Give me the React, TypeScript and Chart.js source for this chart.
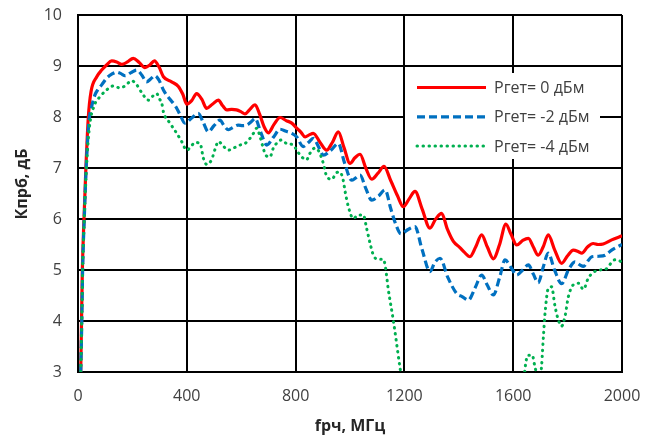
import React, { useEffect, useRef } from "react";
import { Chart, registerables } from "chart.js";

Chart.register(...registerables);

// ---- data ----
const redLabel = "Ргет= 0 дБм";
const blueLabel = "Ргет= -2 дБм";
const greenLabel = "Ргет= -4 дБм";

const redX = [10, 13, 16, 22, 29, 38, 48, 69, 87, 105, 124, 142, 161, 182, 203, 225, 246, 264, 281, 298, 314, 344, 369, 385, 400, 418, 436, 455, 473, 494, 516, 532, 547, 565, 583, 600, 614, 632, 651, 668, 685, 700, 720, 743, 765, 786, 804, 820, 835, 850, 865, 890, 914, 935, 957, 978, 1000, 1018, 1037, 1058, 1080, 1103, 1125, 1150, 1175, 1196, 1218, 1239, 1265, 1294, 1315, 1337, 1358, 1380, 1404, 1420, 1441, 1462, 1484, 1505, 1527, 1550, 1573, 1592, 1613, 1635, 1656, 1674, 1692, 1710, 1729, 1752, 1778, 1800, 1821, 1840, 1852, 1873, 1894, 1912, 1931, 1962, 2000];
const redY = [3.0, 4.0, 5.0, 6.0, 7.0, 8.0, 8.5, 8.79, 8.92, 9.02, 9.1, 9.08, 9.03, 9.08, 9.15, 9.07, 8.97, 9.02, 9.1, 8.98, 8.79, 8.69, 8.6, 8.45, 8.25, 8.32, 8.46, 8.35, 8.17, 8.25, 8.33, 8.22, 8.14, 8.15, 8.14, 8.1, 8.06, 8.15, 8.24, 8.05, 7.8, 7.69, 7.85, 7.99, 7.93, 7.88, 7.78, 7.7, 7.61, 7.65, 7.68, 7.5, 7.35, 7.5, 7.71, 7.4, 7.09, 7.2, 7.27, 7.0, 6.78, 6.9, 7.03, 6.75, 6.45, 6.24, 6.4, 6.54, 6.2, 5.82, 6.0, 6.11, 5.8, 5.56, 5.44, 5.35, 5.26, 5.45, 5.69, 5.45, 5.22, 5.5, 5.9, 5.7, 5.49, 5.58, 5.62, 5.45, 5.29, 5.45, 5.69, 5.4, 5.13, 5.28, 5.39, 5.36, 5.33, 5.45, 5.52, 5.5, 5.51, 5.59, 5.67];

const blueX = [10, 14, 17, 23, 30, 40, 50, 62, 75, 87, 105, 124, 142, 158, 173, 195, 216, 235, 252, 268, 283, 298, 314, 330, 344, 360, 375, 393, 418, 442, 460, 479, 500, 522, 537, 553, 571, 589, 605, 620, 636, 651, 672, 694, 718, 743, 765, 786, 804, 828, 847, 865, 884, 902, 930, 957, 980, 1006, 1020, 1037, 1058, 1080, 1105, 1129, 1150, 1168, 1187, 1215, 1239, 1265, 1294, 1312, 1331, 1360, 1392, 1412, 1435, 1460, 1484, 1505, 1527, 1550, 1570, 1592, 1613, 1635, 1656, 1674, 1692, 1710, 1729, 1752, 1778, 1803, 1827, 1845, 1858, 1875, 1889, 1915, 1938, 1962, 2000];
const blueY = [3.0, 4.0, 5.0, 6.0, 7.0, 7.9, 8.2, 8.43, 8.55, 8.63, 8.76, 8.84, 8.88, 8.85, 8.81, 8.87, 8.92, 8.82, 8.69, 8.75, 8.81, 8.72, 8.53, 8.4, 8.31, 8.2, 8.05, 7.88, 7.98, 8.07, 7.9, 7.71, 7.83, 7.94, 7.83, 7.75, 7.8, 7.84, 7.83, 7.84, 7.9, 7.97, 7.7, 7.45, 7.6, 7.76, 7.72, 7.68, 7.61, 7.42, 7.5, 7.58, 7.42, 7.25, 7.35, 7.48, 7.1, 6.76, 6.8, 6.86, 6.6, 6.37, 6.45, 6.57, 6.2, 5.9, 5.71, 5.8, 5.85, 5.4, 4.97, 5.15, 5.23, 4.85, 4.54, 4.48, 4.41, 4.65, 4.9, 4.7, 4.51, 4.85, 5.2, 5.05, 4.9, 5.0, 5.1, 4.92, 4.75, 5.05, 5.33, 5.0, 4.73, 5.0, 5.16, 5.1, 5.07, 5.18, 5.26, 5.27, 5.29, 5.39, 5.5];

const greenX = [10, 14, 17, 23, 31, 42, 58, 81, 99, 115, 130, 154, 173, 197, 216, 240, 259, 277, 289, 300, 308, 314, 338, 363, 381, 400, 415, 430, 449, 461, 473, 491, 504, 516, 534, 553, 571, 596, 614, 632, 645, 657, 670, 681, 690, 706, 718, 733, 749, 767, 792, 804, 822, 840, 853, 871, 883, 902, 914, 933, 951, 963, 975, 982, 994, 1012, 1031, 1049, 1061, 1074, 1086, 1104, 1122, 1129, 1141, 1159, 1178, 1190, 1200, 1630, 1643, 1656, 1670, 1680, 1691, 1702, 1711, 1717, 1729, 1741, 1754, 1766, 1778, 1790, 1803, 1821, 1840, 1858, 1876, 1894, 1915, 1938, 1974, 2000];
const greenY = [3.0, 4.0, 5.0, 6.0, 7.0, 7.8, 8.2, 8.4, 8.5, 8.57, 8.61, 8.57, 8.61, 8.71, 8.63, 8.43, 8.33, 8.42, 8.46, 8.35, 8.27, 8.1, 7.88, 7.68, 7.52, 7.35, 7.42, 7.5, 7.48, 7.19, 7.07, 7.16, 7.37, 7.52, 7.43, 7.35, 7.39, 7.45, 7.48, 7.58, 7.68, 7.78, 7.6, 7.39, 7.25, 7.22, 7.39, 7.5, 7.55, 7.48, 7.45, 7.35, 7.22, 7.16, 7.29, 7.39, 7.35, 7.09, 6.84, 6.78, 6.91, 6.92, 6.76, 6.54, 6.24, 6.01, 6.08, 6.08, 5.82, 5.52, 5.29, 5.21, 5.21, 5.1, 4.61, 4.02, 3.3, 2.8, 2.0, 2.0, 3.04, 3.33, 3.33, 3.1, 2.9, 3.0, 3.69, 4.15, 4.64, 4.67, 4.28, 4.02, 3.9, 4.08, 4.48, 4.71, 4.74, 4.62, 4.84, 4.95, 5.0, 5.01, 5.2, 5.16];

const xTitle = "fрч, МГц";
const yTitle = "Кпрб, дБ";
const xMin = 0, xMax = 2000, xStep = 400;
const yMin = 3, yMax = 10, yStep = 1;

const FONT = '"Open Sans", "Liberation Sans", sans-serif';
const TEXT = "#404040";
const TITLE = "#262626";

const toPoints = (xs: number[], ys: number[]) => xs.map((x, i) => ({ x, y: ys[i] }));

const legendPlugin = {
  id: "boxLegend",
  afterDraw(chart: any) {
    const ctx = chart.ctx;
    const ds = chart.data.datasets;
    ctx.save();
    // y-axis title
    ctx.translate(22, 184);
    ctx.rotate(-Math.PI / 2);
    ctx.fillStyle = TITLE;
    ctx.font = `bold 16px ${FONT}`;
    ctx.textAlign = "center";
    ctx.textBaseline = "middle";
    ctx.fillText(yTitle, 0, 0);
    ctx.setTransform(1, 0, 0, 1, 0, 0);
    // legend box
    ctx.fillStyle = "#ffffff";
    ctx.fillRect(405, 73, 195, 86);
    ds.forEach((d: any, i: number) => {
      const y = 87.5 + i * 29.3;
      ctx.strokeStyle = d.borderColor;
      ctx.lineWidth = d.borderWidth;
      ctx.setLineDash(d.borderDash || []);
      ctx.lineCap = d.borderCapStyle || "butt";
      ctx.beginPath();
      ctx.moveTo(417, y);
      ctx.lineTo(486, y);
      ctx.stroke();
      ctx.setLineDash([]);
      ctx.fillStyle = TEXT;
      ctx.font = `16px ${FONT}`;
      ctx.textBaseline = "middle";
      ctx.textAlign = "left";
      ctx.fillText(d.label, 494, y + 1);
    });
    ctx.restore();
  },
};

export default function App() {
  const ref = useRef<HTMLCanvasElement>(null);
  useEffect(() => {
    if (!ref.current) return;
    const chart = new Chart(ref.current, {
      type: "line",
      data: {
        datasets: [
          {
            label: redLabel,
            data: toPoints(redX, redY),
            borderColor: "#FF0000",
            borderWidth: 3.2,
            pointRadius: 0,
            cubicInterpolationMode: "monotone",
            order: 3,
          },
          {
            label: blueLabel,
            data: toPoints(blueX, blueY),
            borderColor: "#0070C0",
            borderWidth: 3.2,
            borderDash: [8, 4],
            pointRadius: 0,
            cubicInterpolationMode: "monotone",
            order: 2,
          },
          {
            label: greenLabel,
            data: toPoints(greenX, greenY),
            borderColor: "#00B050",
            borderWidth: 3,
            borderDash: [0.5, 5.5],
            borderCapStyle: "round",
            pointRadius: 0,
            cubicInterpolationMode: "monotone",
            order: 1,
          },
        ],
      },
      options: {
        responsive: false,
        animation: false,
        devicePixelRatio: 1,
        layout: { padding: { left: 0, right: 35, top: 15, bottom: 0 } },
        plugins: { legend: { display: false }, tooltip: { enabled: false } },
        scales: {
          x: {
            type: "linear",
            min: xMin,
            max: xMax,
            afterFit: (s: any) => { s.height = 70; s.paddingLeft = 0; s.paddingRight = 0; },
            ticks: { stepSize: xStep, padding: 15, color: TEXT, font: { family: FONT, size: 16 }, callback: (v: any) => String(v) },
            grid: { color: "#000", lineWidth: 2, drawTicks: false },
            border: { color: "#000", width: 2 },
            title: { display: true, text: xTitle, color: TITLE, font: { family: FONT, size: 16, weight: "bold" }, padding: { top: 0, bottom: 6 } },
          },
          y: {
            type: "linear",
            min: yMin,
            max: yMax,
            afterFit: (s: any) => { s.width = 78; s.paddingTop = 0; s.paddingBottom = 0; },
            ticks: { stepSize: yStep, padding: 16, color: TEXT, font: { family: FONT, size: 16 }, callback: (v: any) => String(v) },
            grid: { color: "#000", lineWidth: 2, drawTicks: false },
            border: { color: "#000", width: 2 },
            title: { display: false },
          },
        },
      },
      plugins: [legendPlugin],
    });
    return () => chart.destroy();
  }, []);
  return (
    <div style={{ position: "absolute", left: 0, top: 0, width: 657, height: 442 }}>
      <canvas ref={ref} width={657} height={442} />
    </div>
  );
}
